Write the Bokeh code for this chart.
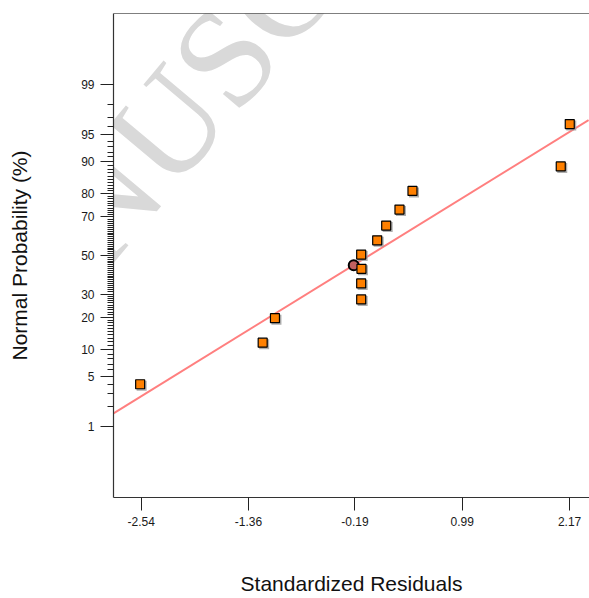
from statistics import NormalDist
from bokeh.plotting import figure
from bokeh.models import (FixedTicker, CustomJSTickFormatter, Span, Label, Range1d)
from bokeh.embed import file_html
from bokeh.resources import INLINE

# ---- data ----
residuals = [-2.551, -1.204, -1.069, -0.121, -0.121, -0.118, -0.121,
             0.055, 0.154, 0.300, 0.443, 2.073, 2.172]
probability = [4.0, 11.8, 19.7, 27.5, 35.2, 42.8, 50.5,
               58.2, 65.8, 73.4, 81.0, 88.7, 96.3]
highlight_residual = [-0.203]
highlight_probability = [44.7]
line_residual = [-2.848, 2.379]
line_probability = [1.58, 96.72]
x_ticks = [-2.54, -1.36, -0.19, 0.99, 2.17]
y_ticks = [1, 5, 10, 20, 30, 50, 70, 80, 90, 95, 99]
y_minor = list(range(1, 100))
y_limit = 99.95

nd = NormalDist()
def probit(p):
    return nd.inv_cdf(p / 100.0)

FRAME_L, FRAME_T = 113, 13
FRAME_W, FRAME_H = 476, 484
X_MIN = -2.844
X_MAX = X_MIN + FRAME_W / 90.96
Z_MAX = probit(y_limit)
px_x = FRAME_W / (X_MAX - X_MIN)
px_z = FRAME_H / (2 * Z_MAX)

p = figure(width=589, height=598, output_backend="svg", toolbar_location=None,
           x_range=Range1d(X_MIN, X_MAX), y_range=Range1d(-Z_MAX, Z_MAX),
           min_border_left=FRAME_L, min_border_right=0, min_border_top=FRAME_T,
           min_border_bottom=598 - FRAME_T - FRAME_H)
p.outline_line_color = None
p.background_fill_color = "white"
p.border_fill_color = "white"
p.xgrid.visible = False
p.ygrid.visible = False

# page pixel -> data helpers (for non-data decorations)
def px2x(px):
    return X_MIN + (px - FRAME_L) / px_x
def py2z(py):
    return Z_MAX - (py - FRAME_T) / px_z

# watermark
wm = Label(x=px2x(-76), y=py2z(414), text="MANUSCRIPT", angle=0.873,
           text_font="Liberation Serif", text_font_size="140px",
           text_color="#d9d9d9", text_align="left", text_baseline="alphabetic",
           level="underlay")
p.add_layout(wm)

# top border
p.add_layout(Span(location=Z_MAX, dimension="width", line_color="black",
                  line_width=1.2))

# fitted line
p.line(line_residual, [probit(v) for v in line_probability],
       line_color="#ff7f7f", line_width=2)

# highlighted point
p.scatter(highlight_residual, [probit(v) for v in highlight_probability],
          marker="circle", size=10, fill_color="#c06060", line_color="black",
          line_width=2)

# squares with shadow
zs = [probit(v) for v in probability]
dx = 1.5 / px_x
dz = -1.5 / px_z
p.scatter([r + dx for r in residuals], [z + dz for z in zs], marker="square",
          size=10, fill_color="#9a9a9a", line_color=None, fill_alpha=0.8)
p.scatter(residuals, zs, marker="square", size=9, fill_color="#ff8000",
          line_color="black", line_width=1.2)

# axes
ya = p.yaxis[0]
ya.ticker = FixedTicker(ticks=[probit(v) for v in y_ticks],
                        minor_ticks=[probit(v) for v in y_minor])
ya.formatter = CustomJSTickFormatter(
    args=dict(zs=[probit(v) for v in y_ticks], labels=[str(v) for v in y_ticks]),
    code="""
for (let i = 0; i < zs.length; i++) {
  if (Math.abs(tick - zs[i]) < 1e-6) return labels[i];
}
return '';
""")
ya.major_tick_in = 0
ya.major_tick_out = 13
ya.minor_tick_in = 0
ya.minor_tick_out = 6
ya.major_label_standoff = 6
ya.axis_line_color = "#333333"
ya.axis_line_width = 1.2
ya.major_tick_line_color = "#222222"
ya.minor_tick_line_color = "#222222"
ya.major_label_text_font = "Liberation Sans"
ya.major_label_text_font_size = "12px"
ya.major_label_text_color = "#1a1a1a"
ya.axis_label = "Normal Probability (%)"
ya.axis_label_text_font = "Liberation Sans"
ya.axis_label_text_font_size = "21px"
ya.axis_label_text_font_style = "normal"
ya.axis_label_text_color = "#111111"
ya.axis_label_standoff = 47

xa = p.xaxis[0]
xa.ticker = FixedTicker(ticks=x_ticks, minor_ticks=[])
xa.formatter = CustomJSTickFormatter(code="return tick.toFixed(2);")
xa.major_tick_in = 0
xa.major_tick_out = 13
xa.minor_tick_in = 0
xa.minor_tick_out = 0
xa.major_label_standoff = 6
xa.axis_line_color = "#333333"
xa.axis_line_width = 1.2
xa.major_tick_line_color = "#222222"
xa.major_label_text_font = "Liberation Sans"
xa.major_label_text_font_size = "12px"
xa.major_label_text_color = "#1a1a1a"
xa.axis_label = "Standardized Residuals"
xa.axis_label_text_font = "Liberation Sans"
xa.axis_label_text_font_size = "21px"
xa.axis_label_text_font_style = "normal"
xa.axis_label_text_color = "#111111"
xa.axis_label_standoff = 43

open("out.html", "w").write(file_html(p, INLINE))
